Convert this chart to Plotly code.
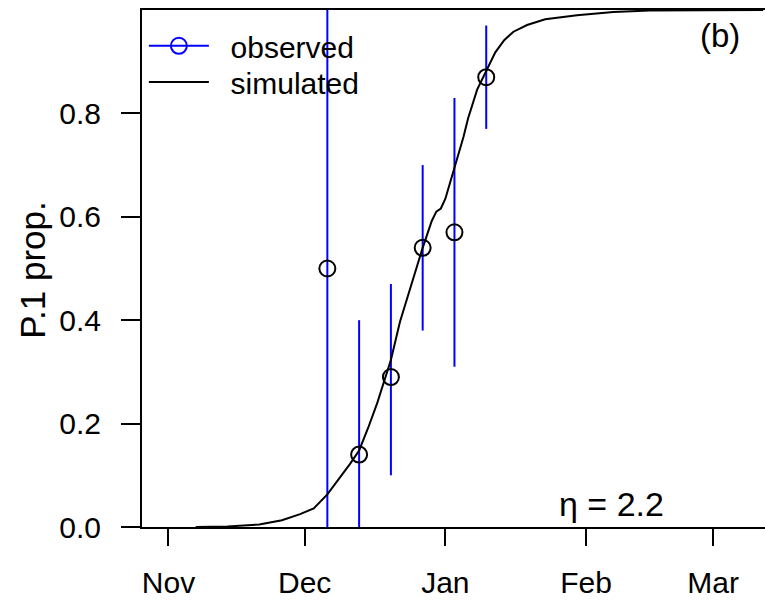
import plotly.graph_objects as go

# ---- data ----
sim_dates = ["2020-11-07", "2020-11-14", "2020-11-21", "2020-11-26", "2020-11-30",
             "2020-12-03", "2020-12-06", "2020-12-09", "2020-12-11", "2020-12-13",
             "2020-12-15", "2020-12-17", "2020-12-20", "2020-12-22", "2020-12-24",
             "2020-12-26", "2020-12-27", "2020-12-29", "2020-12-30", "2020-12-31",
             "2021-01-01", "2021-01-02", "2021-01-03", "2021-01-04", "2021-01-05",
             "2021-01-06", "2021-01-08", "2021-01-10", "2021-01-12", "2021-01-14",
             "2021-01-16", "2021-01-19", "2021-01-23", "2021-01-30", "2021-02-07",
             "2021-02-15", "2021-03-01", "2021-03-12"]
sim_values = [0.000, 0.001, 0.005, 0.013, 0.025,
              0.036, 0.063, 0.097, 0.122, 0.148,
              0.192, 0.240, 0.323, 0.397, 0.455,
              0.512, 0.540, 0.592, 0.610, 0.616,
              0.635, 0.665, 0.695, 0.724, 0.755,
              0.790, 0.846, 0.882, 0.918, 0.942,
              0.958, 0.971, 0.982, 0.990, 0.996,
              0.999, 1.000, 1.000]

obs_dates = ["2020-12-06", "2020-12-13", "2020-12-20", "2020-12-27", "2021-01-03", "2021-01-10"]
obs_values = [0.50, 0.14, 0.29, 0.54, 0.57, 0.87]
obs_lower = [0.00, 0.00, 0.10, 0.38, 0.31, 0.77]
obs_upper = [1.00, 0.40, 0.47, 0.70, 0.83, 0.97]

tick_dates = ["2020-11-01", "2020-12-01", "2021-01-01", "2021-02-01", "2021-03-01"]
tick_labels = ["Nov", "Dec", "Jan", "Feb", "Mar"]
y_ticks = [0.0, 0.2, 0.4, 0.6, 0.8]

FONT = "Liberation Sans, Arial, Helvetica, sans-serif"
FS = 30
BLUE = "#0000FF"
PAD = "\u00a0\u00a0"

fig = go.Figure()

# observed: blue vertical interval lines + black open circles
fig.add_trace(go.Scatter(
    x=obs_dates, y=obs_values, mode="markers", showlegend=False,
    marker=dict(symbol="circle-open", size=16, color="black", line=dict(width=2, color="black")),
    error_y=dict(type="data", symmetric=False,
                 array=[u - v for u, v in zip(obs_upper, obs_values)],
                 arrayminus=[v - l for v, l in zip(obs_values, obs_lower)],
                 color=BLUE, thickness=2, width=0),
))

# simulated curve
fig.add_trace(go.Scatter(
    x=sim_dates, y=sim_values, mode="lines", name="simulated", showlegend=False,
    line=dict(color="black", width=2),
))

# legend entries
fig.add_trace(go.Scatter(
    x=[None], y=[None], mode="lines+markers", name=PAD + "observed", legend="legend",
    line=dict(color=BLUE, width=2),
    marker=dict(symbol="circle-open", size=16, color=BLUE, line=dict(width=2, color=BLUE)),
))
fig.add_trace(go.Scatter(
    x=[None], y=[None], mode="lines", name=PAD + "simulated", legend="legend2",
    line=dict(color="black", width=2),
))

leg_common = dict(xanchor="left", yanchor="top", bgcolor="rgba(0,0,0,0)", borderwidth=0,
                  font=dict(size=FS), itemwidth=60)

fig.update_layout(
    width=765, height=600,
    margin=dict(l=142, r=0, t=10, b=73),
    paper_bgcolor="white", plot_bgcolor="white",
    font=dict(family=FONT, size=FS, color="black"),
    showlegend=True,
    legend=dict(x=0.003, y=0.981, **leg_common),
    legend2=dict(x=0.003, y=0.911, **leg_common),
    xaxis=dict(
        range=["2020-10-26 04:00", "2021-03-12 10:00"],
        tickmode="array", tickvals=tick_dates, ticktext=tick_labels,
        ticks="outside", ticklen=17, tickwidth=2, tickcolor="black",
        showline=True, linewidth=2, linecolor="black", mirror=True,
        showgrid=False, zeroline=False, ticklabelstandoff=11,
    ),
    yaxis=dict(
        range=[0, 1.0],
        tickmode="array", tickvals=y_ticks, ticktext=[f"{v:.1f}" for v in y_ticks],
        ticks="outside", ticklen=19, tickwidth=2, tickcolor="black",
        showline=True, linewidth=2, linecolor="black", mirror=False,
        showgrid=False, zeroline=False, ticklabelstandoff=14,
    ),
    annotations=[
        dict(text="P.1 prop.", xref="paper", yref="paper", x=-0.177, y=0.497,
             xanchor="center", yanchor="middle", textangle=-90, showarrow=False,
             font=dict(size=35)),
        dict(text="(b)", xref="paper", yref="paper", x=0.928, y=0.950,
             xanchor="center", yanchor="middle", showarrow=False, font=dict(size=33)),
        dict(text="η = 2.2", xref="paper", yref="paper", x=0.754, y=0.044,
             xanchor="center", yanchor="middle", showarrow=False, font=dict(size=34)),
    ],
)

fig.write_html("out.html")
